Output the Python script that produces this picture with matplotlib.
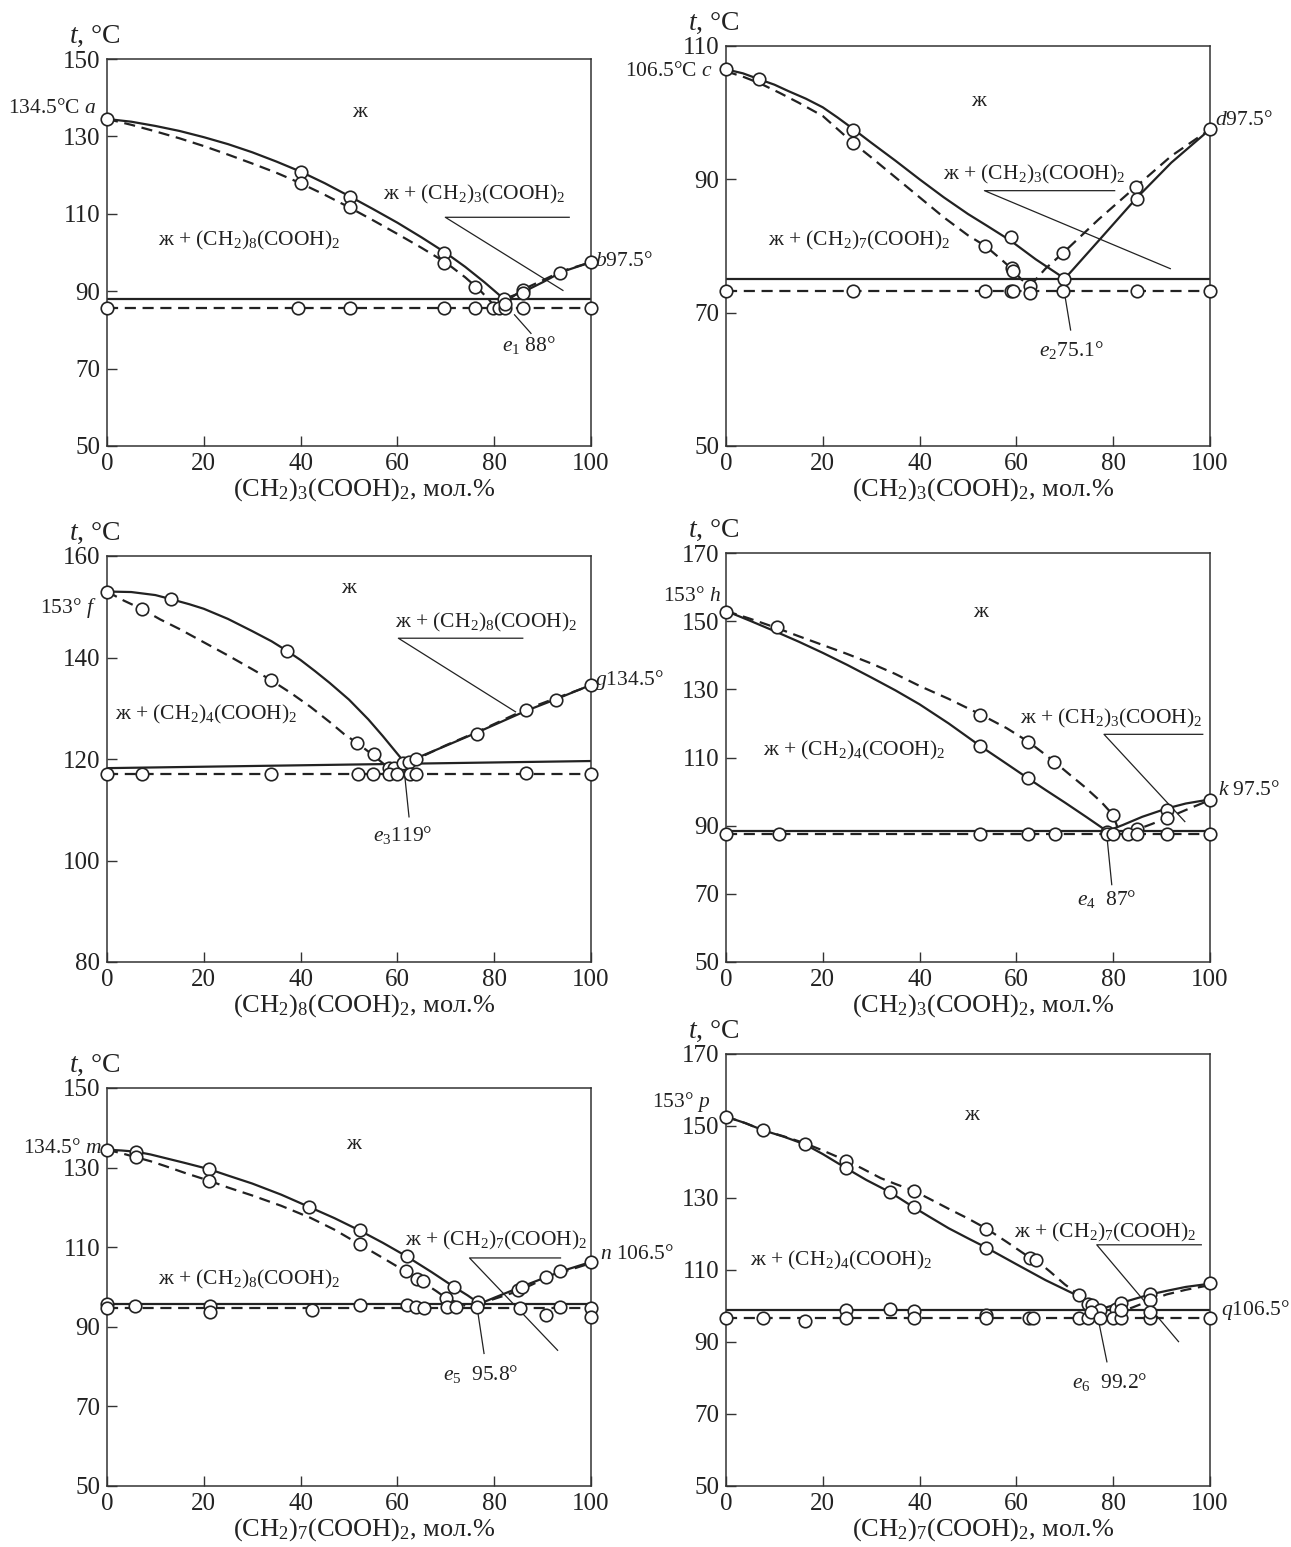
import matplotlib
matplotlib.use("Agg")
import matplotlib.pyplot as plt

plt.rcParams['font.family'] = ['Liberation Serif', 'DejaVu Serif']
plt.rcParams['mathtext.fontset'] = 'custom'
plt.rcParams['mathtext.rm'] = 'Liberation Serif'
plt.rcParams['mathtext.it'] = 'Liberation Serif:italic'
plt.rcParams['mathtext.bf'] = 'Liberation Serif:bold'

INK = '#222222'

# ---------------- Panel 1: (CH2)8(COOH)2 - (CH2)3(COOH)2 ----------------
p1_sl_x = [0, 5, 10, 15, 20, 25, 30, 35, 40, 45, 50, 55, 60, 65, 70, 74, 78, 82]
p1_sl_y = [134.5, 133.8, 132.7, 131.4, 129.8, 128.0, 125.9, 123.5, 120.9, 117.9, 114.6,
           111.2, 107.7, 103.9, 99.9, 96.3, 92.3, 88.0]
p1_dl_x = [0, 5, 10, 15, 20, 25, 30, 35, 40, 45, 50, 55, 60, 65, 70, 74, 77, 79, 80.3]
p1_dl_y = [134.5, 133.0, 131.3, 129.5, 127.5, 125.3, 123.0, 120.6, 117.9, 114.9, 111.7,
           108.3, 104.8, 101.2, 97.4, 93.6, 90.3, 87.7, 85.7]
p1_sr_x = [82, 86, 90, 94, 100]
p1_sr_y = [88.0, 89.8, 92.3, 95.0, 97.5]
p1_dr_x = [83.5, 86, 90, 94, 100]
p1_dr_y = [88.3, 90.5, 92.8, 95.2, 97.5]
p1_eut = [88.0, 88.0]
p1_eut_dash = 85.7
p1_mx = [0, 40, 40, 50.3, 50.3, 69.7, 69.7, 76, 82.1, 86, 86, 93.5, 100,
         0, 39.5, 50.3, 69.7, 76, 79.8, 81, 82.2, 86, 100, 82.2]
p1_my = [134.5, 120.9, 117.9, 114.3, 111.7, 100.0, 97.4, 91.0, 88.0, 90.3, 89.5, 94.8, 97.5,
         85.7, 85.7, 85.7, 85.7, 85.7, 85.7, 85.7, 85.7, 85.7, 85.7, 86.7]

# ---------------- Panel 2: (CH2)7(COOH)2 - (CH2)3(COOH)2 ----------------
p2_sl_x = [0, 3.5, 6.9, 10, 13, 16.5, 20, 23, 26.2, 30, 35, 40, 45, 50, 54, 58.8, 64, 70]
p2_sl_y = [106.5, 105.9, 105.0, 104.2, 103.2, 102.1, 100.8, 99.3, 97.6, 95.5, 92.8, 90.0,
           87.3, 84.8, 83.0, 80.8, 78.0, 75.1]
p2_dl_x = [0, 3.5, 7, 11, 15, 20, 26.2, 30, 35, 40, 45, 50, 53.6, 57, 59, 61, 62.5]
p2_dl_y = [106.2, 105.4, 104.4, 103.0, 101.5, 99.5, 95.5, 93.3, 90.3, 87.3, 84.3, 81.6,
           80.0, 77.9, 76.6, 75.0, 74.2]
p2_sr_x = [70, 77, 84.7, 92, 100]
p2_sr_y = [75.1, 80.8, 87.1, 92.5, 97.5]
p2_dr_x = [62.8, 66, 69.7, 77, 84.7, 92, 100]
p2_dr_y = [74.0, 76.6, 79.0, 84.0, 88.9, 93.5, 97.5]
p2_eut = [75.1, 75.1]
p2_eut_dash = 73.2
p2_mx = [0, 6.9, 26.2, 26.2, 53.6, 58.8, 59, 59.2, 62.8, 69.9, 69.7, 84.7, 84.9, 100,
         0, 26.2, 53.6, 58.8, 59.2, 62.8, 69.7, 84.9, 100]
p2_my = [106.5, 105.0, 97.4, 95.5, 80.0, 81.3, 76.7, 76.3, 74.0, 75.1, 79.0, 88.9, 87.1, 97.5,
         73.2, 73.2, 73.2, 73.2, 73.2, 73.0, 73.2, 73.2, 73.2]

# ---------------- Panel 3: (CH2)4(COOH)2 - (CH2)8(COOH)2 ----------------
p3_sl_x = [0, 5, 10, 13.2, 17, 20, 25, 30, 34, 37.2, 40, 43, 46, 50, 54, 57, 59.5, 61.4]
p3_sl_y = [153.0, 152.9, 152.3, 151.5, 150.5, 149.6, 147.6, 145.2, 143.2, 141.3, 139.5,
           137.3, 135.0, 131.7, 127.8, 124.5, 121.6, 119.4]
p3_dl_x = [0, 3.5, 7.3, 11, 15, 20, 25, 30, 33.8, 38, 42, 46, 49, 51.6, 55.2, 58.2, 59.5]
p3_dl_y = [153.0, 151.2, 149.5, 147.5, 145.6, 143.0, 140.4, 137.7, 135.6, 133.0, 130.3,
           127.3, 124.9, 123.2, 120.6, 118.2, 117.2]
p3_sr_x = [61.4, 64, 70, 76.4, 86.6, 92.8, 100]
p3_sr_y = [119.4, 120.2, 122.6, 125.2, 129.5, 131.8, 134.6]
p3_dr_x = [62.3, 64, 70, 76.4, 86.6, 92.8, 100]
p3_dr_y = [119.3, 120.0, 122.7, 125.3, 129.8, 132.0, 134.5]
p3_eut = [118.2, 119.6]
p3_eut_dash = 117.1
p3_mx = [0, 7.3, 13.2, 33.8, 37.2, 51.6, 55.2, 58.2, 59.3, 61.2, 62.3, 63.8, 76.4, 86.6, 92.8, 100,
         0, 7.3, 33.8, 51.9, 55, 58.2, 59.9, 62.5, 63.8, 86.6, 100]
p3_my = [153.0, 149.5, 151.5, 135.5, 141.3, 123.2, 120.9, 118.2, 118.2, 119.3, 119.4, 120.0, 125.0,
         129.6, 131.7, 134.5,
         117.1, 117.1, 117.1, 117.1, 117.1, 117.1, 117.1, 117.1, 117.1, 117.3, 117.1]

# ---------------- Panel 4: (CH2)4(COOH)2 - (CH2)3(COOH)2 ----------------
p4_sl_x = [0, 5, 10, 15, 20, 25, 30, 35, 40, 46, 52.5, 57, 62.4, 66, 70, 74.5, 78.7]
p4_sl_y = [153.0, 150.1, 147.1, 144.0, 140.7, 137.2, 133.5, 129.7, 125.6, 120.0, 113.4,
           109.1, 103.9, 100.5, 96.8, 92.5, 88.4]
p4_dl_x = [0, 5, 10.5, 15, 20, 25, 30, 35, 40, 46, 52.5, 58, 62.4, 65, 67.8, 71, 74,
           77.5, 80, 81]
p4_dl_y = [153.0, 150.7, 148.0, 145.6, 143.0, 140.4, 137.6, 134.5, 131.0, 127.2, 122.7,
           118.6, 114.7, 111.9, 108.8, 105.0, 101.5, 97.0, 93.1, 89.0]
p4_sr_x = [78.7, 82, 86, 91.2, 95, 100]
p4_sr_y = [88.4, 90.2, 92.6, 95.1, 96.5, 97.7]
p4_dr_x = [83, 85, 88, 91.2, 96, 100]
p4_dr_y = [87.8, 88.9, 90.5, 92.3, 95.2, 97.5]
p4_eut = [88.3, 88.3]
p4_eut_dash = 87.5
p4_mx = [0, 10.5, 52.5, 52.5, 62.4, 62.4, 67.8, 80, 78.7, 85, 91.2, 91.2, 100,
         0, 10.9, 52.4, 62.4, 68, 78.7, 80, 83, 85, 91.2, 100]
p4_my = [152.6, 148.2, 122.6, 113.4, 114.5, 103.9, 108.8, 93.1, 88.2, 88.9, 94.6, 92.2, 97.5,
         87.5, 87.5, 87.5, 87.5, 87.5, 87.5, 87.5, 87.5, 87.5, 87.5, 87.5]

# ---------------- Panel 5: (CH2)8(COOH)2 - (CH2)7(COOH)2 ----------------
p5_sl_x = [0, 3, 6, 9, 12, 16, 21.1, 25, 30, 36, 41.8, 47, 52.2, 57, 61.9, 67, 71.6, 74.5, 77]
p5_sl_y = [134.5, 134.3, 134.0, 133.3, 132.4, 131.2, 129.6, 128.0, 126.0, 123.2, 120.1,
           117.3, 114.2, 111.1, 107.7, 103.8, 100.1, 97.9, 95.8]
p5_dl_x = [0, 3, 6, 9, 12, 16, 21.1, 25, 30, 36, 42, 47, 52.2, 57, 61.7, 65, 68, 70.1, 74]
p5_dl_y = [134.5, 133.6, 132.6, 131.6, 130.4, 128.7, 126.7, 125.0, 123.0, 120.4, 117.4,
           114.4, 110.7, 107.3, 103.9, 101.4, 99.0, 97.2, 95.3]
p5_sr_x = [77, 80, 85.7, 90.8, 94, 100]
p5_sr_y = [95.8, 97.3, 100.1, 102.5, 104.0, 106.3]
p5_dr_x = [76, 80, 85, 90.8, 94, 100]
p5_dr_y = [95.5, 97.0, 99.0, 102.3, 103.7, 106.0]
p5_eut = [95.7, 95.7]
p5_eut_dash = 94.8
p5_mx = [0, 6, 6, 21.1, 21.1, 41.8, 52.2, 52.2, 61.9, 61.7, 64.1, 65.2, 70.1, 71.6, 76.6, 85, 85.7,
         90.8, 93.5, 100,
         0, 0, 5.8, 21.3, 21.3, 42.3, 52.2, 61.9, 63.8, 65.4, 70.3, 72.1, 76.4, 85.3, 90.7, 93.6,
         100, 100]
p5_my = [134.3, 134.0, 132.6, 129.6, 126.7, 120.1, 114.2, 110.7, 107.7, 103.9, 102.0, 101.4, 97.2,
         100.1, 96.2, 99.2, 100.1, 102.4, 103.9, 106.2,
         95.7, 94.8, 95.3, 95.3, 93.6, 94.2, 95.4, 95.4, 94.9, 94.6, 94.9, 95.0, 94.9, 94.6, 92.9,
         94.9, 94.7, 92.5]

# ---------------- Panel 6: (CH2)4(COOH)2 - (CH2)7(COOH)2 ----------------
p6_sl_x = [0, 4, 7.7, 12, 16.3, 20, 24.8, 29, 33.9, 38.8, 42, 46, 50, 53.8, 60, 66, 72.9,
           75.7, 77.5]
p6_sl_y = [152.6, 150.8, 148.8, 147.0, 144.9, 142.2, 138.3, 135.0, 131.6, 127.4, 124.8,
           121.6, 118.8, 116.2, 111.6, 107.2, 102.7, 100.0, 99.2]
p6_dl_x = [0, 4, 7.7, 12, 16.3, 20, 24.8, 28, 32, 35, 38.8, 42, 46, 50, 53.8, 58, 62.8, 64.1,
           67, 70, 73.5, 76, 78]
p6_dl_y = [152.6, 150.8, 148.8, 147.1, 145.2, 143.2, 140.4, 138.3, 135.5, 133.9, 132.0,
           129.8, 127.0, 124.3, 121.5, 117.8, 113.4, 112.7, 109.5, 106.0, 102.5, 100.0, 97.0]
p6_sr_x = [77.5, 81.5, 84.5, 87.6, 91, 95, 100]
p6_sr_y = [99.2, 100.8, 102.0, 103.2, 104.2, 105.3, 106.2]
p6_dr_x = [80, 84, 87.6, 91, 95, 100]
p6_dr_y = [97.8, 99.6, 101.5, 103.2, 104.5, 105.8]
p6_eut = [99.0, 99.0]
p6_eut_dash = 96.8
p6_mx = [0, 7.7, 16.3, 24.8, 24.8, 33.9, 38.8, 38.8, 53.8, 53.8, 62.8, 64.1, 72.9, 74.8, 75.7,
         77.3, 80.5, 81.7, 87.6, 87.6, 100,
         0, 7.7, 16.3, 24.8, 24.8, 33.9, 38.8, 38.8, 53.8, 53.8, 62.6, 63.5, 72.9, 74.7, 75.4,
         77.3, 80, 81.7, 81.7, 87.6, 87.6, 100]
p6_my = [152.6, 148.8, 144.9, 140.4, 138.3, 131.6, 132.0, 127.4, 121.5, 116.2, 113.4, 112.7,
         103.1, 100.5, 100.2, 99.0, 99.3, 100.9, 103.2, 101.6, 106.3,
         96.8, 96.8, 95.8, 98.9, 96.8, 99.2, 98.6, 96.8, 97.5, 96.8, 96.8, 96.8, 96.8, 96.8, 98.2,
         96.6, 96.8, 96.8, 98.9, 96.8, 98.2, 96.8]

# ---------------- text ----------------
xlabels = [r'(CH$_2$)$_3$(COOH)$_2$, мол.%', r'(CH$_2$)$_3$(COOH)$_2$, мол.%',
           r'(CH$_2$)$_8$(COOH)$_2$, мол.%', r'(CH$_2$)$_3$(COOH)$_2$, мол.%',
           r'(CH$_2$)$_7$(COOH)$_2$, мол.%', r'(CH$_2$)$_7$(COOH)$_2$, мол.%']
yticks_all = [[50, 70, 90, 110, 130, 150], [50, 70, 90, 110], [80, 100, 120, 140, 160],
              [50, 70, 90, 110, 130, 150, 170], [50, 70, 90, 110, 130, 150],
              [50, 70, 90, 110, 130, 150, 170]]
xticks = [0, 20, 40, 60, 80, 100]

# axes rectangles in pixels (left, top, right, bottom)
W, H = 1291, 1547
rects_px = [(107, 59, 591, 446), (726, 46, 1210, 446),
            (107, 556, 591, 962), (726, 553, 1210, 962),
            (107, 1088, 591, 1486), (726, 1054, 1210, 1486)]

fig = plt.figure(figsize=(W / 100, H / 100), dpi=100)

TXT = 15.5


def make_axes(i):
    l, t, r, b = rects_px[i]
    ax = fig.add_axes([l / W, 1 - b / H, (r - l) / W, (b - t) / H])
    yt = yticks_all[i]
    ax.set_xlim(0, 100)
    ax.set_ylim(yt[0], yt[-1])
    ax.set_xticks(xticks)
    ax.set_yticks(yt)
    ax.tick_params(direction='in', length=7, width=1.0, colors='#333333',
                   labelsize=18, labelcolor=INK, pad=5)
    for s in ax.spines.values():
        s.set_linewidth(1.1)
        s.set_color('#333333')
    ax.set_xlabel(xlabels[i], fontsize=19, color=INK)
    ax.xaxis.set_label_coords(0.5 + 15 / (r - l), -30 / (b - t))
    ax.annotate(r'$t$, °C', xy=(0, 1), xycoords='axes fraction', xytext=(-9, 16),
                textcoords='offset points', ha='center', va='center', fontsize=20, color=INK)
    return ax


def draw(ax, sl, dl, sr, dr, eut, eut_d, mk):
    kw_s = dict(color=INK, lw=1.6, solid_joinstyle='round', solid_capstyle='round')
    kw_d = dict(color=INK, lw=1.6, linestyle=(0, (5, 3)), dash_joinstyle='round')
    ax.plot(sl[0], sl[1], **kw_s)
    ax.plot(sr[0], sr[1], **kw_s)
    ax.plot(dl[0], dl[1], **kw_d)
    ax.plot(dr[0], dr[1], **kw_d)
    ax.plot([0, 100], eut, **kw_s)
    ax.plot([0, 100], [eut_d, eut_d], **kw_d)
    ax.plot(mk[0], mk[1], linestyle='none', marker='o', markersize=9, markerfacecolor='white',
            markeredgecolor=INK, markeredgewidth=1.2, clip_on=False, zorder=5)


def label(ax, x, y, s, size=TXT, ha='center'):
    ax.text(x, y, s, fontsize=size, ha=ha, va='center', color=INK, clip_on=False)


def leader(ax, xs, ys):
    ax.plot(xs, ys, color=INK, lw=0.9, clip_on=False)


panels = [
    (p1_sl_x, p1_sl_y, p1_dl_x, p1_dl_y, p1_sr_x, p1_sr_y, p1_dr_x, p1_dr_y, p1_eut, p1_eut_dash, p1_mx, p1_my),
    (p2_sl_x, p2_sl_y, p2_dl_x, p2_dl_y, p2_sr_x, p2_sr_y, p2_dr_x, p2_dr_y, p2_eut, p2_eut_dash, p2_mx, p2_my),
    (p3_sl_x, p3_sl_y, p3_dl_x, p3_dl_y, p3_sr_x, p3_sr_y, p3_dr_x, p3_dr_y, p3_eut, p3_eut_dash, p3_mx, p3_my),
    (p4_sl_x, p4_sl_y, p4_dl_x, p4_dl_y, p4_sr_x, p4_sr_y, p4_dr_x, p4_dr_y, p4_eut, p4_eut_dash, p4_mx, p4_my),
    (p5_sl_x, p5_sl_y, p5_dl_x, p5_dl_y, p5_sr_x, p5_sr_y, p5_dr_x, p5_dr_y, p5_eut, p5_eut_dash, p5_mx, p5_my),
    (p6_sl_x, p6_sl_y, p6_dl_x, p6_dl_y, p6_sr_x, p6_sr_y, p6_dr_x, p6_dr_y, p6_eut, p6_eut_dash, p6_mx, p6_my),
]

axes = []
for i, p in enumerate(panels):
    ax = make_axes(i)
    draw(ax, (p[0], p[1]), (p[2], p[3]), (p[4], p[5]), (p[6], p[7]), p[8], p[9], (p[10], p[11]))
    axes.append(ax)

# Panel 1 texts
ax = axes[0]
label(ax, 52.2, 136.2, 'ж')
label(ax, 75.8, 114.9, r'ж + (CH$_2$)$_3$(COOH)$_2$')
leader(ax, [95.5, 69.9, 94.2], [109.1, 109.1, 90.2])
label(ax, 29.4, 103.0, r'ж + (CH$_2$)$_8$(COOH)$_2$')
label(ax, 87.2, 76.2, r'$e_1$ 88°')
leader(ax, [84.2, 87.6], [83.9, 79.1])
label(ax, -2.1, 137.2, r'134.5°C $a$', ha='right')
label(ax, 100.8, 97.6, r'$b$97.5°', ha='left')

# Panel 2 texts
ax = axes[1]
label(ax, 52.1, 101.6, 'ж')
label(ax, 63.7, 90.8, r'ж + (CH$_2$)$_3$(COOH)$_2$')
leader(ax, [80.3, 53.4, 91.8], [88.3, 88.3, 76.6])
label(ax, 27.6, 80.9, r'ж + (CH$_2$)$_7$(COOH)$_2$')
label(ax, 71.4, 64.4, r'$e_2$75.1°')
leader(ax, [69.9, 71.2], [73.1, 67.4])
label(ax, -2.7, 106.1, r'106.5°C $c$', ha='right')
label(ax, 101.0, 98.8, r'$d$97.5°', ha='left')

# Panel 3 texts
ax = axes[2]
label(ax, 50.0, 153.6, 'ж')
label(ax, 78.3, 146.9, r'ж + (CH$_2$)$_8$(COOH)$_2$')
leader(ax, [85.9, 60.2, 84.4], [143.8, 143.8, 129.3])
label(ax, 20.5, 128.8, r'ж + (CH$_2$)$_4$(COOH)$_2$')
label(ax, 61.0, 105.1, r'$e_3$119°')
leader(ax, [61.4, 62.4], [117.8, 108.6])
label(ax, -2.2, 149.7, r'153° $f$', ha='right')
label(ax, 100.8, 135.6, r'$g$134.5°', ha='left')

# Panel 4 texts
ax = axes[3]
label(ax, 52.5, 152.6, 'ж')
label(ax, 79.6, 121.5, r'ж + (CH$_2$)$_3$(COOH)$_2$')
leader(ax, [98.5, 78.1, 94.8], [116.8, 116.8, 91.2])
label(ax, 26.4, 112.2, r'ж + (CH$_2$)$_4$(COOH)$_2$')
label(ax, 78.6, 68.6, r'$e_4$  87°')
leader(ax, [78.7, 79.7], [86.9, 72.7])
label(ax, -1.0, 157.3, r'153° $h$', ha='right')
label(ax, 101.6, 100.3, r'$k$ 97.5°', ha='left')

# Panel 5 texts
ax = axes[4]
label(ax, 50.9, 135.7, 'ж')
label(ax, 80.4, 111.7, r'ж + (CH$_2$)$_7$(COOH)$_2$')
leader(ax, [93.7, 74.9, 93.1], [107.3, 107.3, 84.1])
label(ax, 29.4, 101.8, r'ж + (CH$_2$)$_8$(COOH)$_2$')
label(ax, 77.2, 78.2, r'$e_5$  95.8°')
leader(ax, [76.6, 77.9], [93.8, 83.3])
label(ax, -1.0, 134.8, r'134.5° $m$', ha='right')
label(ax, 101.8, 108.1, r'$n$ 106.5°', ha='left')

# Panel 6 texts
ax = axes[5]
label(ax, 50.8, 152.8, 'ж')
label(ax, 78.3, 120.4, r'ж + (CH$_2$)$_7$(COOH)$_2$')
leader(ax, [98.2, 76.6, 93.5], [117.0, 117.0, 90.1])
label(ax, 23.8, 112.7, r'ж + (CH$_2$)$_4$(COOH)$_2$')
label(ax, 79.2, 78.9, r'$e_6$  99.2°')
leader(ax, [77.0, 78.7], [95.7, 84.5])
label(ax, -3.2, 156.8, r'153° $p$', ha='right')
label(ax, 102.2, 99.0, r'$q$106.5°', ha='left')

fig.savefig('out.png', dpi=100, facecolor='white')
